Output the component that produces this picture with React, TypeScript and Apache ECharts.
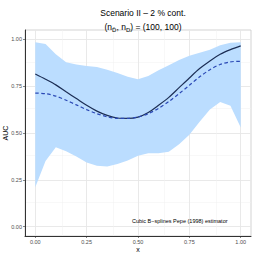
import React, { useEffect, useRef } from "react";
import * as echarts from "echarts";

const xs = [0, 0.05, 0.1, 0.15, 0.2, 0.25, 0.3, 0.35, 0.4, 0.45, 0.5, 0.55, 0.6, 0.65, 0.7, 0.75, 0.8, 0.85, 0.9, 0.95, 1.0];
const upper = [0.985, 0.975, 0.92, 0.878, 0.866, 0.858, 0.852, 0.838, 0.82, 0.8, 0.787, 0.805, 0.835, 0.862, 0.89, 0.913, 0.928, 0.945, 0.968, 0.982, 0.985];
const lower = [0.21, 0.35, 0.424, 0.402, 0.374, 0.342, 0.325, 0.321, 0.335, 0.353, 0.378, 0.392, 0.392, 0.4, 0.44, 0.49, 0.56, 0.625, 0.665, 0.645, 0.53];
const solid = [0.815, 0.787, 0.757, 0.72, 0.684, 0.648, 0.617, 0.594, 0.58, 0.578, 0.585, 0.61, 0.648, 0.69, 0.742, 0.794, 0.844, 0.885, 0.92, 0.945, 0.965];
const dashed = [0.713, 0.71, 0.697, 0.675, 0.65, 0.625, 0.603, 0.587, 0.578, 0.578, 0.585, 0.603, 0.632, 0.668, 0.71, 0.755, 0.8, 0.838, 0.866, 0.88, 0.883];
const tickValues = [0, 0.25, 0.5, 0.75, 1];
const minorValues = [0.125, 0.375, 0.625, 0.875];

const FONT = "Liberation Sans, Arial, sans-serif";

export default function App() {
  const ref = useRef<HTMLDivElement>(null);
  useEffect(() => {
    if (!ref.current) return;
    const chart = echarts.init(ref.current, null, { renderer: "svg" });
    const gridMarks = [
      ...tickValues.map((v) => ({ yAxis: v, lineStyle: { color: "#E6E6E6", width: 0.9, type: "solid" } })),
      ...minorValues.map((v) => ({ yAxis: v, lineStyle: { color: "#F0F0F0", width: 0.5, type: "solid" } })),
      ...tickValues.map((v) => ({ xAxis: v, lineStyle: { color: "#E6E6E6", width: 0.9, type: "solid" } })),
      ...minorValues.map((v) => ({ xAxis: v, lineStyle: { color: "#F0F0F0", width: 0.5, type: "solid" } })),
    ];
    const bandData = xs.map((x, i) => [x, lower[i], upper[i]]);
    const option: any = {
      animation: false,
      backgroundColor: "#FFFFFF",
      textStyle: { fontFamily: FONT },
      title: [
        {
          text: "Scenario II – 2 % cont.",
          left: 138,
          top: 3,
          textAlign: "center",
          textStyle: { fontSize: 8.5, fontWeight: "normal", color: "#000", fontFamily: FONT },
        },
        {
          text: "{a|(n}{s|D\u0304}{a|, n}{s|D}{a|) = (100, 100)}",
          left: 138,
          top: 16,
          textAlign: "center",
          textStyle: {
            fontFamily: FONT,
            fontWeight: "normal",
            rich: {
              a: { fontSize: 8.5, fontWeight: "normal", color: "#000", fontFamily: FONT, lineHeight: 12, verticalAlign: "middle" },
              s: { fontSize: 6, fontWeight: "normal", color: "#000", fontFamily: FONT, lineHeight: 12, verticalAlign: "bottom", padding: [5, 0, 0, 0] },
            },
          },
        },
      ],
      grid: {
        left: 25,
        right: 3,
        top: 30,
        bottom: 18,
        containLabel: false,
        outerBoundsMode: "none",
        show: true,
        borderColor: "#C8C8C8",
        borderWidth: 0.8,
        backgroundColor: "transparent",
      },
      xAxis: {
        type: "value",
        min: -0.05,
        max: 1.05,
        name: "x",
        nameLocation: "middle",
        nameGap: 9.5,
        nameMoveOverlap: false,
        nameTextStyle: { fontSize: 7, color: "#000", fontFamily: FONT, verticalAlign: "top" },
        axisLine: { show: true, onZero: false, lineStyle: { color: "#333333", width: 1 } },
        axisTick: { show: true, customValues: tickValues, length: 2, lineStyle: { color: "#333333", width: 0.6 } },
        axisLabel: { customValues: tickValues, fontSize: 5.5, color: "#4D4D4D", margin: 3, formatter: (v: number) => v.toFixed(2) },
        splitLine: { show: false },
      },
      yAxis: {
        type: "value",
        min: -0.05,
        max: 1.05,
        name: "AUC",
        nameLocation: "middle",
        nameGap: 16,
        nameMoveOverlap: false,
        nameTextStyle: { fontSize: 7, color: "#000", fontFamily: FONT },
        axisLine: { show: true, onZero: false, lineStyle: { color: "#333333", width: 1 } },
        axisTick: { show: true, customValues: tickValues, length: 2, lineStyle: { color: "#333333", width: 0.6 } },
        axisLabel: { customValues: tickValues, fontSize: 5.5, color: "#4D4D4D", margin: 3, formatter: (v: number) => v.toFixed(2) },
        splitLine: { show: false },
      },
      series: [
        {
          type: "custom",
          name: "band",
          data: bandData,
          encode: { x: 0, y: [1, 2] },
          z: 2,
          silent: true,
          renderItem: (params: any, api: any) => {
            if (params.dataIndex !== 0) return null;
            const top = bandData.map((d) => api.coord([d[0], d[2]]));
            const bot = bandData.map((d) => api.coord([d[0], d[1]])).reverse();
            return {
              type: "polygon",
              shape: { points: top.concat(bot) },
              style: { fill: "#BBDDFF", stroke: "none" },
            };
          },
          markLine: { silent: true, symbol: "none", label: { show: false }, data: gridMarks, animation: false, z: 0 },
        },
        {
          type: "line",
          name: "solid",
          data: xs.map((x, i) => [x, solid[i]]),
          symbol: "none",
          smooth: 0.3,
          lineStyle: { color: "#1C2E55", width: 1.2 },
          z: 3,
        },
        {
          type: "line",
          name: "dashed",
          data: xs.map((x, i) => [x, dashed[i]]),
          symbol: "none",
          smooth: 0.3,
          lineStyle: { color: "#2A48B5", width: 1.2, type: [3.5, 2.5] },
          z: 4,
        },
      ],
      graphic: [
        {
          type: "text",
          left: 132,
          top: 218,
          z: 10,
          style: { text: "Cubic B−splines Pepe (1998) estimator", fontSize: 5.5, fill: "#000", fontFamily: FONT },
        },
      ],
    };
    chart.setOption(option);
    return () => chart.dispose();
  }, []);
  return <div ref={ref} style={{ width: 254, height: 254, position: "absolute", left: 0, top: 0 }} />;
}
